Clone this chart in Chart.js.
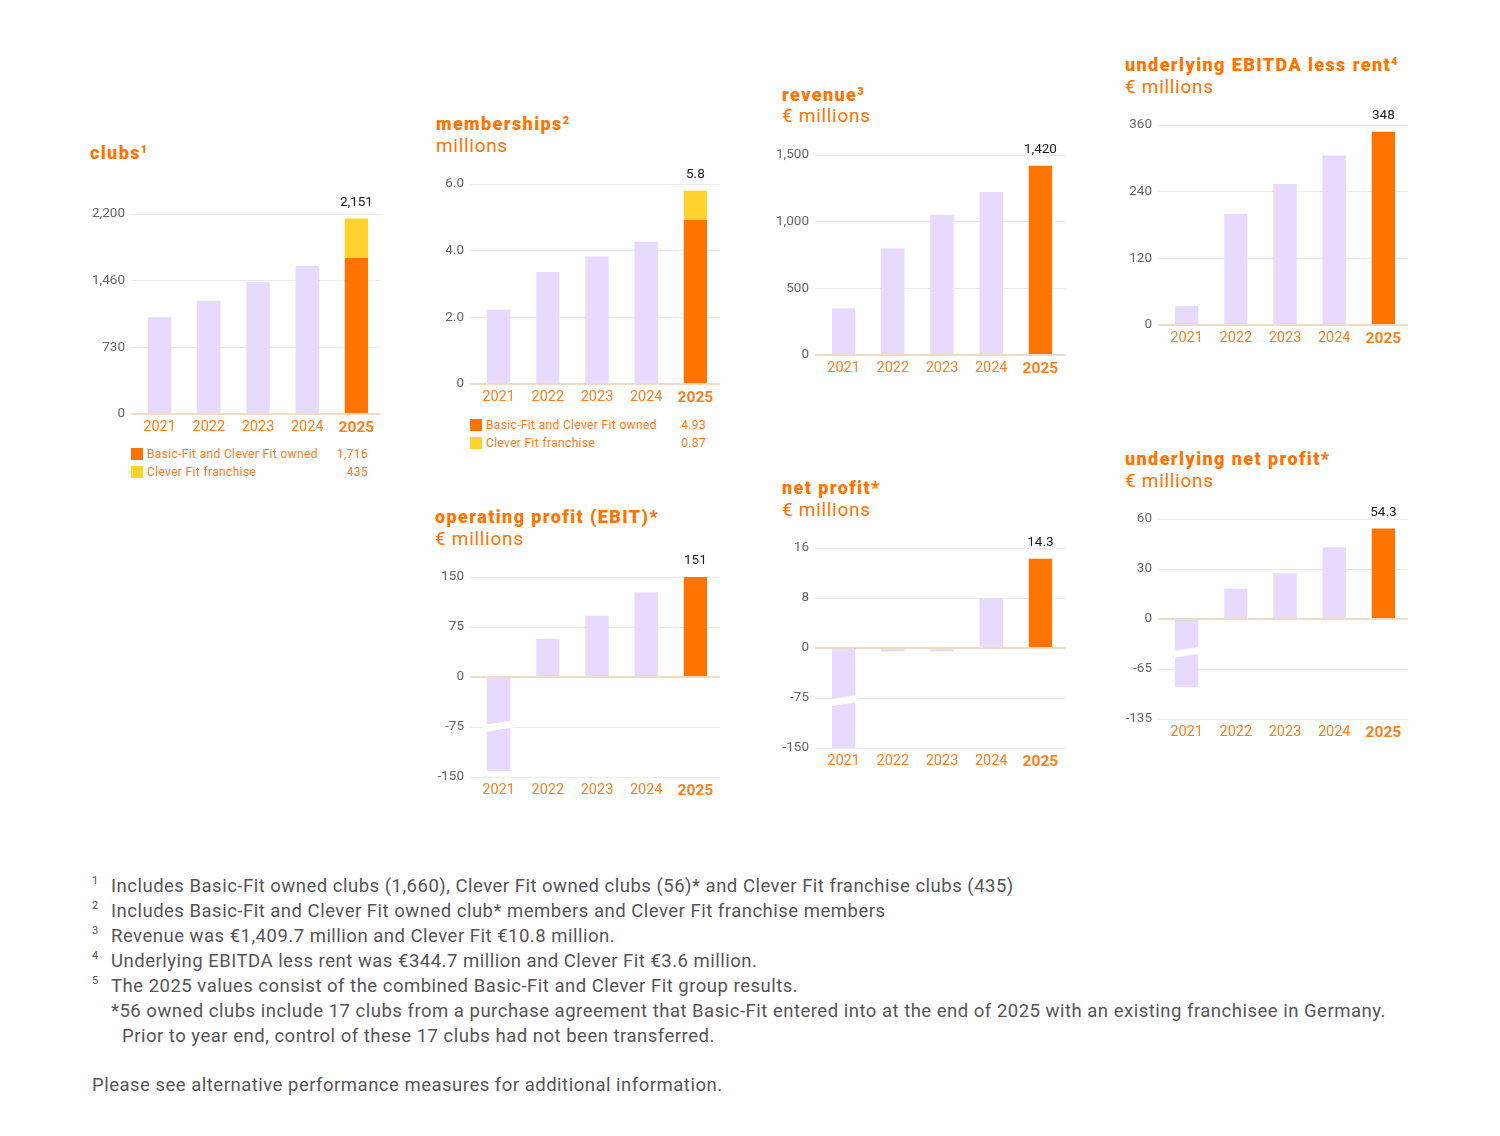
<!DOCTYPE html>
<html>
<head>
<meta charset="utf-8">
<script src="https://cdn.jsdelivr.net/npm/chart.js@4"></script>
<style>
  html, body { margin:0; padding:0; background:#fff; }
  body { width:1500px; height:1136px; position:relative; overflow:hidden; font-family: Roboto, "Noto Sans", sans-serif; }
  .t { position:absolute; color:#FF7300; font-weight:900; font-size:18px; letter-spacing:1.4px; white-space:nowrap; line-height:22px; }
  .t .sp { display:inline-block; font-size:11px; position:relative; top:-6px; letter-spacing:0; margin-left:0px; }
  .s { position:absolute; color:#FF7300; font-size:19px; letter-spacing:0.7px; white-space:nowrap; line-height:22px; }
  canvas.c { position:absolute; }
  .lg { position:absolute; font-size:12px; color:#FF7A1A; letter-spacing:0.35px; white-space:nowrap; line-height:14px; }
  .lg i { position:absolute; width:12px; height:12px; top:1px; }
  .lv { position:absolute; font-size:12px; color:#FF7A1A; letter-spacing:0.35px; white-space:nowrap; line-height:14px; text-align:right; }
  .fn { position:absolute; font-size:18.5px; letter-spacing:0.5px; color:#555; white-space:nowrap; line-height:25px; }
  .fs { position:absolute; font-size:11px; color:#555; line-height:12px; }
</style>
</head>
<body>

<!-- titles -->
<div class="t" style="left:90px;top:142px">clubs<span class="sp">1</span></div>

<div class="t" style="left:436px;top:113px">memberships<span class="sp">2</span></div>
<div class="s" style="left:436px;top:135px">millions</div>

<div class="t" style="left:782px;top:84px">revenue<span class="sp">3</span></div>
<div class="s" style="left:782px;top:105px">€ millions</div>

<div class="t" style="left:1125px;top:54px">underlying EBITDA less rent<span class="sp">4</span></div>
<div class="s" style="left:1125px;top:76px">€ millions</div>

<div class="t" style="left:435px;top:506px">operating profit (EBIT)*</div>
<div class="s" style="left:435px;top:528px">€ millions</div>

<div class="t" style="left:782px;top:477px">net profit*</div>
<div class="s" style="left:782px;top:499px">€ millions</div>

<div class="t" style="left:1125px;top:448px">underlying net profit*</div>
<div class="s" style="left:1125px;top:470px">€ millions</div>

<canvas class="c" id="clubs"></canvas>
<canvas class="c" id="memberships"></canvas>
<canvas class="c" id="revenue"></canvas>
<canvas class="c" id="ebitda"></canvas>
<canvas class="c" id="ebit"></canvas>
<canvas class="c" id="netprofit"></canvas>
<canvas class="c" id="unp"></canvas>

<div id="legends"></div>

<!-- footnotes -->
<div class="fs" style="left:92px;top:875px">1</div>
<div class="fn" style="left:111px;top:874px">Includes Basic-Fit owned clubs (1,660), Clever Fit owned clubs (56)* and Clever Fit franchise clubs (435)</div>
<div class="fs" style="left:92px;top:900px">2</div>
<div class="fn" style="left:111px;top:899px">Includes Basic-Fit and Clever Fit owned club* members and Clever Fit franchise members</div>
<div class="fs" style="left:92px;top:925px">3</div>
<div class="fn" style="left:111px;top:924px">Revenue was €1,409.7 million and Clever Fit €10.8 million.</div>
<div class="fs" style="left:92px;top:950px">4</div>
<div class="fn" style="left:111px;top:949px">Underlying EBITDA less rent was €344.7 million and Clever Fit €3.6 million.</div>
<div class="fs" style="left:92px;top:975px">5</div>
<div class="fn" style="left:111px;top:974px">The 2025 values consist of the combined Basic-Fit and Clever Fit group results.</div>
<div class="fn" style="left:111px;top:999px">*56 owned clubs include 17 clubs from a purchase agreement that Basic-Fit entered into at the end of 2025 with an existing franchisee in Germany.</div>
<div class="fn" style="left:122px;top:1024px">Prior to year end, control of these 17 clubs had not been transferred.</div>
<div class="fn" style="left:92px;top:1073px">Please see alternative performance measures for additional information.</div>

<script>
// ---------------- DATA ----------------
const years = ['2021', '2022', '2023', '2024', '2025'];

const clubsHistory = [1065, 1245, 1450, 1630];        // 2021-2024
const clubsOwned2025 = 1716;
const clubsFranchise2025 = 435;
const clubsTicks = ['0', '730', '1,460', '2,200'];

const membershipsHistory = [2.23, 3.36, 3.83, 4.27];  // 2021-2024
const membershipsOwned2025 = 4.93;
const membershipsFranchise2025 = 0.87;
const membershipsTicks = ['0', '2.0', '4.0', '6.0'];

const revenue = [350, 801, 1051, 1223, 1420];
const revenueTicks = ['0', '500', '1,000', '1,500'];

const ebitdaLessRent = [34, 200, 254, 305, 348];
const ebitdaTicks = ['0', '120', '240', '360'];

const ebit = [-141, 57, 92, 127, 151];
const ebitTicks = ['-150', '-75', '0', '75', '150'];
const ebitBreak = -74;

const netProfit = [-150, -5, -5, 8, 14.3];
const netProfitTicks = ['-150', '-75', '0', '8', '16'];
const netProfitBreak = -79;

const underlyingNetProfit = [-92, 18.2, 27.4, 43, 54.3];
const underlyingNetProfitTicks = ['-135', '-65', '0', '30', '60'];
const underlyingNetProfitBreak = -45;

const legendLabels = ['Basic-Fit and Clever Fit owned', 'Clever Fit franchise'];

// ---------------- STYLE ----------------
const PURPLE = '#E8D9FF';
const ORANGE = '#FF7300';
const YELLOW = '#FFD22E';
const GRID = '#EBEBEB';
const ZERO = '#EEDCC8';
const TICK_TXT = '#666666';
const XLBL = '#FF7F1F';

Chart.defaults.font.family = 'Roboto, "Noto Sans", sans-serif';
Chart.defaults.animation = false;

const PAD_L = 70, PAD_T = 40, PAD_R = 10, PAD_B = 30, PW = 246, PH = 200;

function placeCanvas(id, left, top) {
  const cv = document.getElementById(id);
  cv.width = PAD_L + PW + PAD_R;
  cv.height = PAD_T + PH + PAD_B;
  cv.style.width = cv.width + 'px';
  cv.style.height = cv.height + 'px';
  cv.style.left = (left - PAD_L) + 'px';
  cv.style.top = (top - PAD_T) + 'px';
  return cv;
}

const topLabelPlugin = {
  id: 'topLabel',
  afterDatasetsDraw(chart, args, opts) {
    if (!opts || opts.text == null) return;
    const ctx = chart.ctx;
    const ys = chart.scales.y;
    const xs = chart.scales.x;
    const x = xs.getPixelForValue(opts.index);
    const y = ys.getPixelForValue(opts.top);
    ctx.save();
    ctx.fillStyle = '#1a1a1a';
    ctx.font = '13.5px Roboto, "Noto Sans", sans-serif';
    ctx.textAlign = 'center';
    ctx.textBaseline = 'middle';
    ctx.fillText(opts.text, x, y - 16);
    ctx.restore();
  }
};

const breakPlugin = {
  id: 'barBreak',
  afterDatasetsDraw(chart, args, opts) {
    if (!opts || opts.value == null) return;
    const el = chart.getDatasetMeta(0).data[opts.index];
    if (!el) return;
    const ys = chart.scales.y;
    const yc = ys.getPixelForValue(opts.value);
    const x0 = el.x - el.width / 2 - 4, x1 = el.x + el.width / 2 + 4;
    const t = 7, d = 2.5;
    const ctx = chart.ctx;
    ctx.save();
    ctx.fillStyle = '#ffffff';
    ctx.beginPath();
    ctx.moveTo(x0, yc + d - t / 2);
    ctx.lineTo(x1, yc - d - t / 2);
    ctx.lineTo(x1, yc - d + t / 2);
    ctx.lineTo(x0, yc + d + t / 2);
    ctx.closePath();
    ctx.fill();
    ctx.restore();
  }
};

function makeChart(cfg) {
  const cv = placeCanvas(cfg.id, cfg.left, cfg.top);
  const neg = cfg.negFactor || 1;
  const tf = v => (v == null ? null : (v < 0 ? v * neg : v));
  const n = cfg.ticks.length;
  const datasets = cfg.datasets.map(ds => ({
    data: ds.data.map(tf),
    backgroundColor: ds.color,
    borderWidth: 0,
    categoryPercentage: 1,
    barPercentage: 0.474,
    stack: 's'
  }));
  return new Chart(cv, {
    type: 'bar',
    data: { labels: years, datasets },
    plugins: [topLabelPlugin, breakPlugin],
    options: {
      responsive: false,
      devicePixelRatio: 1,
      layout: { padding: { top: PAD_T, right: PAD_R, left: 0, bottom: 0 } },
      plugins: {
        legend: { display: false },
        tooltip: { enabled: false },
        topLabel: { index: 4, top: tf(cfg.total), text: cfg.totalText },
        barBreak: cfg.breakValue != null ? { index: 0, value: tf(cfg.breakValue) } : {}
      },
      scales: {
        x: {
          stacked: true,
          afterFit: s => { s.height = PAD_B; },
          grid: { display: false, drawTicks: false },
          border: { display: false },
          ticks: {
            padding: 5,
            color: XLBL,
            font: c => ({ size: c.index === 4 ? 15.5 : 14.5, weight: c.index === 4 ? 'bold' : 'normal' })
          }
        },
        y: {
          stacked: true,
          min: cfg.min, max: cfg.max,
          afterFit: s => { s.width = PAD_L; },
          afterBuildTicks: s => {
            s.ticks = cfg.ticks.map((_, i) => ({ value: cfg.min + i * (cfg.max - cfg.min) / (n - 1) }));
          },
          border: { display: false },
          grid: {
            color: c => (Math.abs(c.tick.value) < 1e-9 ? ZERO : GRID),
            lineWidth: c => (Math.abs(c.tick.value) < 1e-9 ? 2 : 1),
            drawTicks: true,
            tickLength: 4
          },
          ticks: {
            padding: 6,
            color: TICK_TXT,
            font: { size: 13.5 },
            callback: (v, i) => cfg.ticks[i]
          }
        }
      }
    }
  });
}

const nul4 = [null, null, null, null];
const fmt = (v, d) => v.toLocaleString('en-US', { minimumFractionDigits: d, maximumFractionDigits: d });

// clubs
makeChart({
  id: 'clubs', left: 135, top: 214, min: 0, max: 2200, ticks: clubsTicks,
  datasets: [
    { data: [...clubsHistory, null], color: PURPLE },
    { data: [...nul4, clubsOwned2025], color: ORANGE },
    { data: [...nul4, clubsFranchise2025], color: YELLOW }
  ],
  total: clubsOwned2025 + clubsFranchise2025,
  totalText: fmt(clubsOwned2025 + clubsFranchise2025, 0)
});

// memberships
makeChart({
  id: 'memberships', left: 474, top: 184, min: 0, max: 6, ticks: membershipsTicks,
  datasets: [
    { data: [...membershipsHistory, null], color: PURPLE },
    { data: [...nul4, membershipsOwned2025], color: ORANGE },
    { data: [...nul4, membershipsFranchise2025], color: YELLOW }
  ],
  total: membershipsOwned2025 + membershipsFranchise2025,
  totalText: fmt(membershipsOwned2025 + membershipsFranchise2025, 1)
});

function single(id, left, top, arr, min, max, ticks, dec, negFactor, breakValue) {
  makeChart({
    id, left, top, min, max, ticks, negFactor, breakValue,
    datasets: [{ data: arr, color: arr.map((_, i) => (i === arr.length - 1 ? ORANGE : PURPLE)) }],
    total: arr[arr.length - 1],
    totalText: fmt(arr[arr.length - 1], dec)
  });
}

single('revenue', 819, 155, revenue, 0, 1500, revenueTicks, 0);
single('ebitda', 1162, 125, ebitdaLessRent, 0, 360, ebitdaTicks, 0);
single('ebit', 474, 577, ebit, -150, 150, ebitTicks, 0, 1, ebitBreak);
single('netprofit', 819, 548, netProfit, -16, 16, netProfitTicks, 1, 16 / 150, netProfitBreak);
single('unp', 1162, 519, underlyingNetProfit, -60, 60, underlyingNetProfitTicks, 1, 60 / 135, underlyingNetProfitBreak);

// legends (HTML)
function legend(left, top, valRight, values, decimals) {
  const host = document.getElementById('legends');
  const cols = [ORANGE, YELLOW];
  values.forEach((v, i) => {
    const y = top + i * 18;
    const d = document.createElement('div');
    d.className = 'lg';
    d.style.left = (left + 16) + 'px';
    d.style.top = (y - 7) + 'px';
    d.textContent = legendLabels[i];
    const sq = document.createElement('i');
    sq.style.background = cols[i];
    sq.style.left = '-16px';
    d.appendChild(sq);
    host.appendChild(d);
    const vv = document.createElement('div');
    vv.className = 'lv';
    vv.style.right = (1500 - valRight) + 'px';
    vv.style.top = (y - 7) + 'px';
    vv.textContent = fmt(v, decimals);
    host.appendChild(vv);
  });
}
legend(131, 454, 368, [clubsOwned2025, clubsFranchise2025], 0);
legend(470, 425, 706, [membershipsOwned2025, membershipsFranchise2025], 2);
</script>
</body>
</html>
